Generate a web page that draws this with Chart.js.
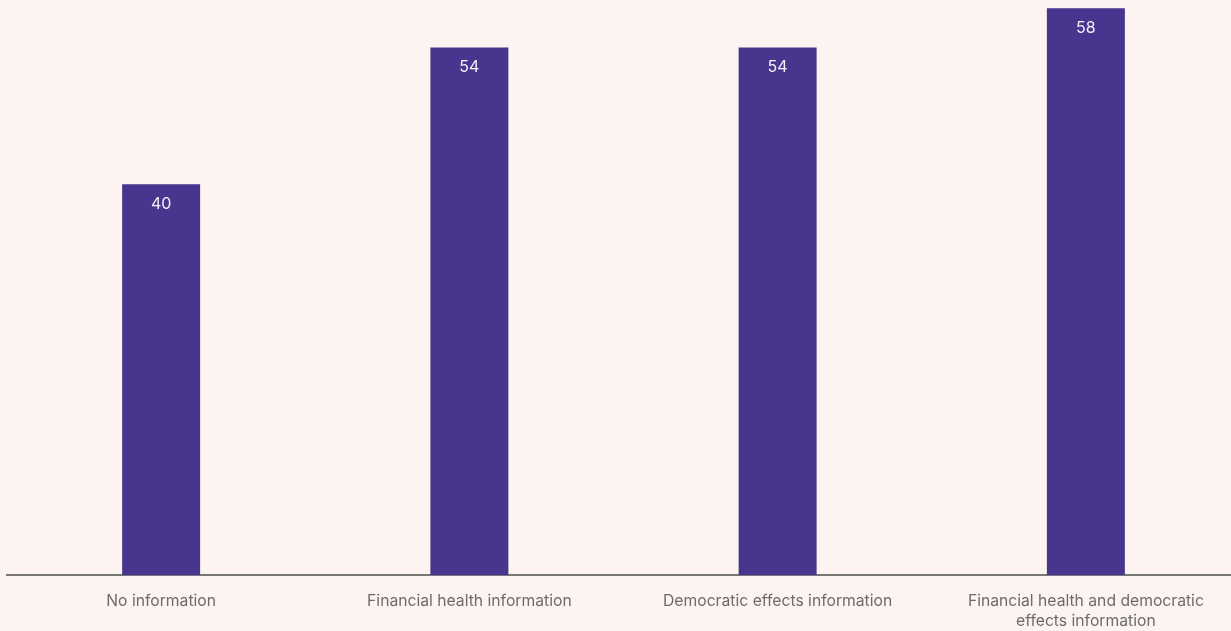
<!DOCTYPE html>
<html>
<head>
<meta charset="utf-8">
<script src="https://cdn.jsdelivr.net/npm/chart.js@4"></script>
<style>
  html, body { margin: 0; padding: 0; background: #fdf3f0; overflow: hidden; }
  #wrap { position: relative; width: 1240px; height: 631px; }
</style>
</head>
<body>
<div id="wrap"><canvas id="chart"></canvas></div>
<script>
const categories = [
  "No information",
  "Financial health information",
  "Democratic effects information",
  ["Financial health and democratic", "effects information"]
];
const values = [40, 54, 54, 58];

const barColor = "#48358e";
const fontFamily = "Inter, 'Noto Sans', sans-serif";

// white value text just under the top of each bar
const valueLabels = {
  id: "valueLabels",
  afterDatasetsDraw(chart) {
    const ctx = chart.ctx;
    ctx.save();
    ctx.font = "16px " + fontFamily;
    ctx.fillStyle = "#f3f0fa";
    ctx.textAlign = "center";
    ctx.textBaseline = "middle";
    chart.getDatasetMeta(0).data.forEach((bar, i) => {
      ctx.fillText(String(values[i]), bar.x, bar.y + 20);
    });
    ctx.restore();
  }
};

new Chart(document.getElementById("chart"), {
  type: "bar",
  data: {
    labels: categories,
    datasets: [{
      data: values,
      backgroundColor: barColor,
      borderWidth: 0,
      barPercentage: 1,
      categoryPercentage: 0.253
    }]
  },
  options: {
    responsive: true,
    maintainAspectRatio: false,
    animation: false,
    layout: { padding: { left: 7, right: 0, top: 0, bottom: 0 } },
    plugins: {
      legend: { display: false },
      tooltip: { enabled: false }
    },
    scales: {
      x: {
        grid: { display: false, drawTicks: false },
        border: { display: true, color: "#777777", width: 2 },
        ticks: {
          color: "#6b6b6b",
          padding: 16,
          maxRotation: 0,
          autoSkip: false,
          font: { family: fontFamily, size: 15.7, lineHeight: 1.27 }
        },
        afterFit(scale) { scale.height = 56; }
      },
      y: {
        display: false,
        min: 0,
        max: 58.85
      }
    }
  },
  plugins: [valueLabels]
});
</script>
</body>
</html>
